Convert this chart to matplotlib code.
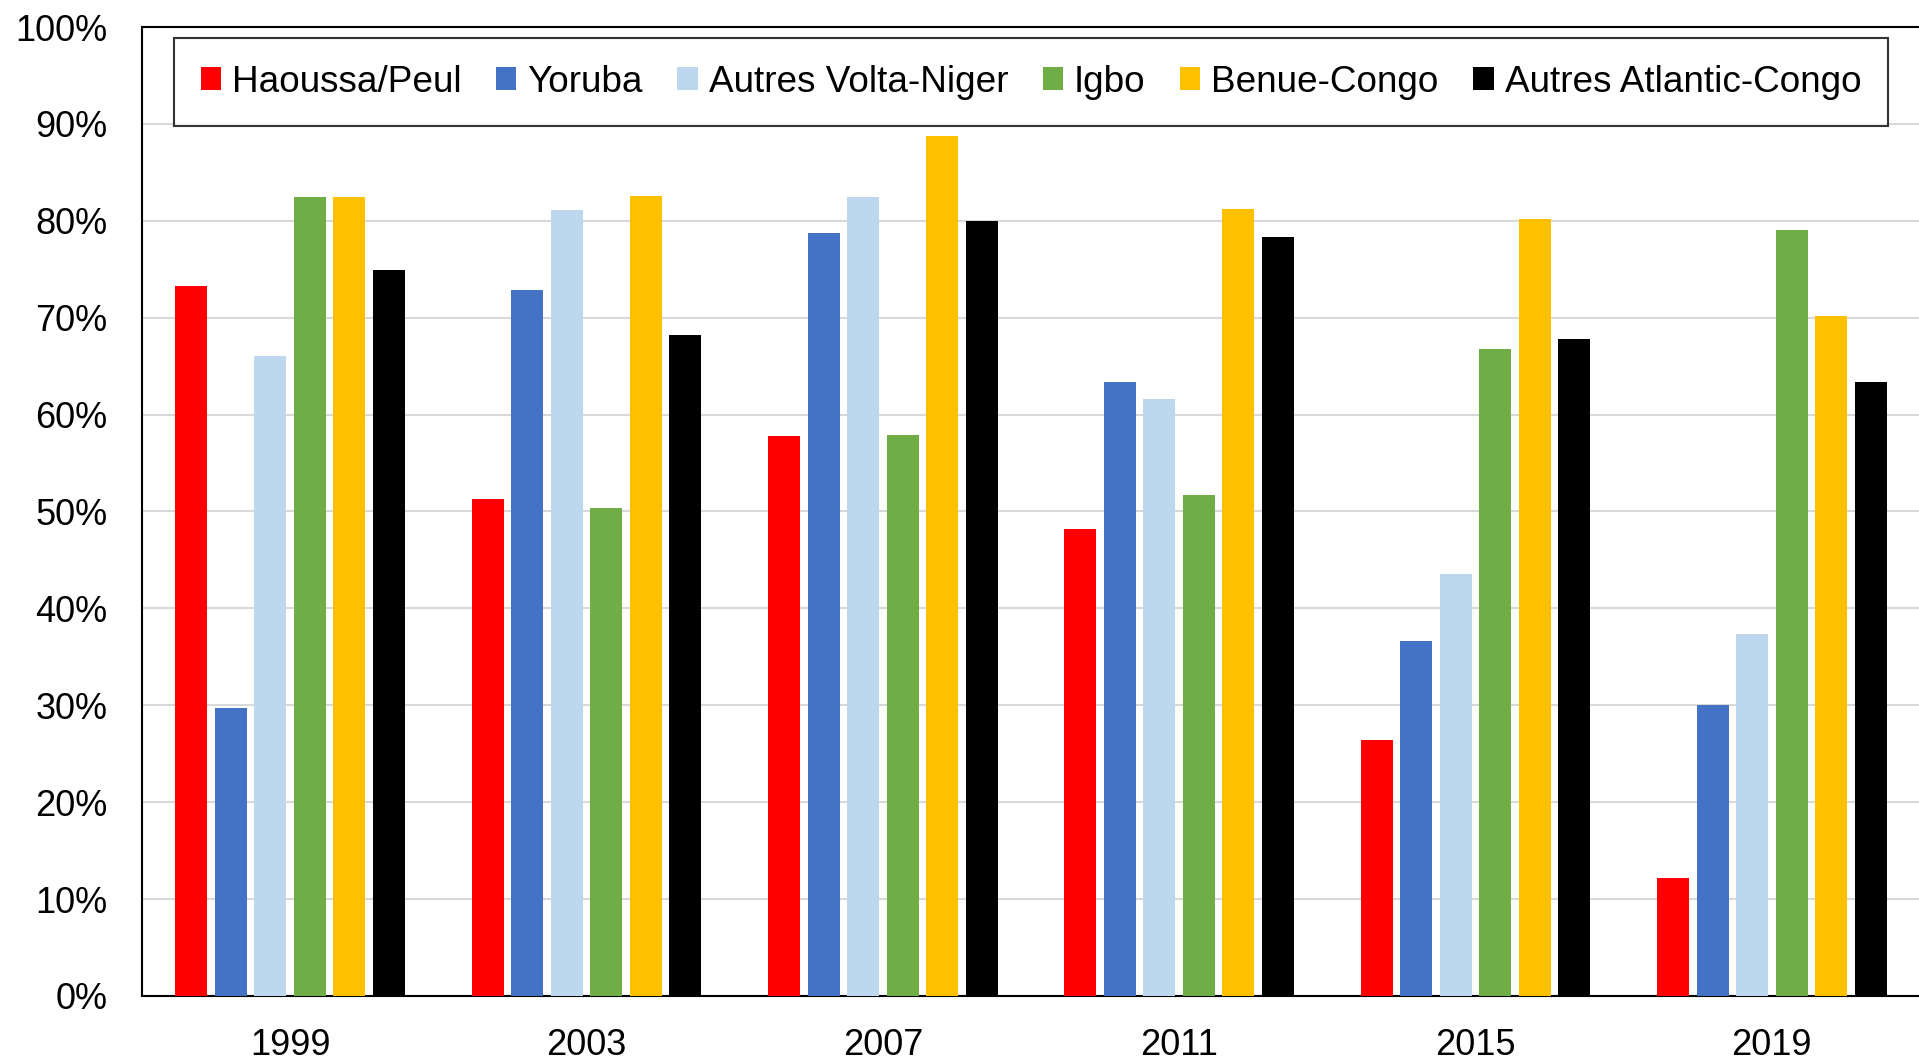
import matplotlib.pyplot as plt
import numpy as np
from matplotlib.ticker import PercentFormatter

plt.rcParams['font.family'] = ['Liberation Sans', 'DejaVu Sans']

# data
years = ['1999', '2003', '2007', '2011', '2015', '2019']
groups = ['Haoussa/Peul', 'Yoruba', 'Autres Volta-Niger', 'Igbo', 'Benue-Congo', 'Autres Atlantic-Congo']
haoussa = [73.3, 51.3, 57.8, 48.2, 26.4, 12.2]
yoruba = [29.7, 72.9, 78.7, 63.4, 36.6, 30.0]
volta_niger = [66.0, 81.1, 82.5, 61.6, 43.6, 37.4]
igbo = [82.5, 50.4, 57.9, 51.7, 66.8, 79.0]
benue_congo = [82.5, 82.6, 88.7, 81.2, 80.2, 70.2]
atlantic_congo = [74.9, 68.2, 80.0, 78.3, 67.8, 63.4]
colors = ['#FF0000', '#4472C4', '#BDD7EE', '#70AD47', '#FFC000', '#000000']

series = [haoussa, yoruba, volta_niger, igbo, benue_congo, atlantic_congo]

fig = plt.figure(figsize=(19.19, 10.59), dpi=100)
ax = fig.add_axes([0.074, 0.0595, 0.9265, 0.915])

x = np.arange(len(years))
pitch = 0.1333
width = 0.108
for i, (vals, name, c) in enumerate(zip(series, groups, colors)):
    ax.bar(x + (i - 2.5) * pitch, vals, width, color=c, label=name, zorder=3)

ax.set_xlim(-0.5, 5.5)
ax.set_ylim(0, 100)
ax.set_yticks(np.arange(0, 101, 10))
ax.yaxis.set_major_formatter(PercentFormatter(decimals=0))
ax.set_xticks(x)
ax.set_xticklabels(years)
ax.grid(axis='y', color='#d9d9d9', linewidth=1.5, zorder=0)
ax.tick_params(axis='both', length=0, labelsize=26)
ax.tick_params(axis='y', pad=25)
ax.tick_params(axis='x', pad=23)
for s in ['left', 'bottom', 'top']:
    ax.spines[s].set_linewidth(1.5)
    ax.spines[s].set_color('black')
ax.spines['right'].set_visible(False)

leg = ax.legend(loc='upper center', bbox_to_anchor=(0.5, 1.0), ncol=6,
                fontsize=26.6, frameon=True, fancybox=False, edgecolor='black',
                handlelength=0.55, handleheight=0.55, handletextpad=0.3,
                columnspacing=0.93, borderpad=0.72, borderaxespad=0.3)
leg.get_frame().set_linewidth(1.5)

plt.savefig('out.png')
